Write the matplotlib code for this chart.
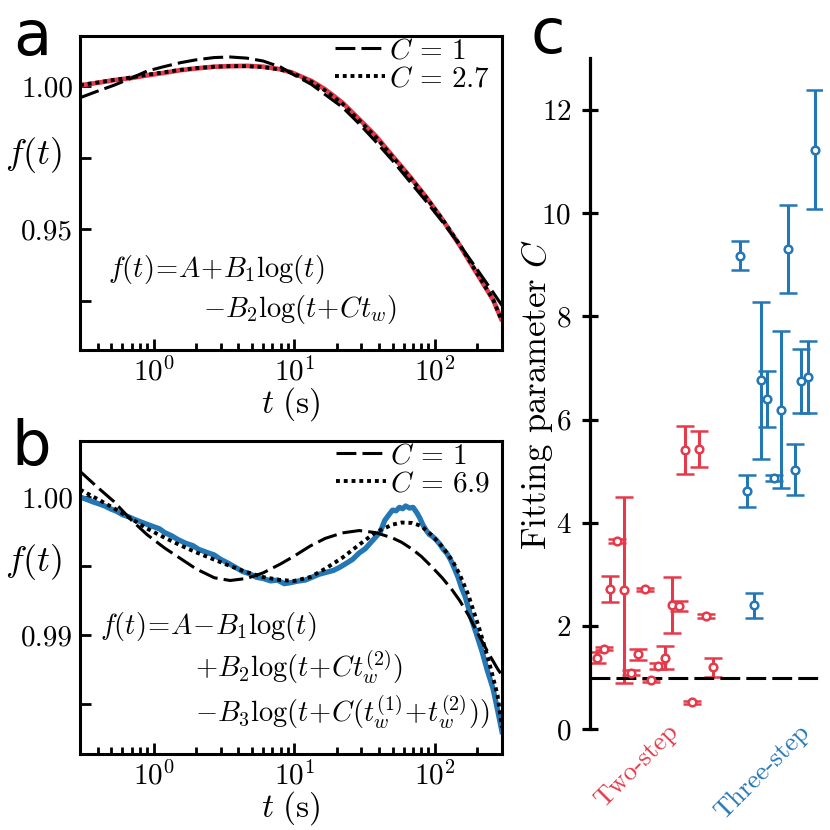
import matplotlib
matplotlib.use("Agg")
import matplotlib.pyplot as plt

plt.rcParams['font.family'] = ['cmr10']
plt.rcParams['mathtext.fontset'] = 'cm'
plt.rcParams['axes.formatter.use_mathtext'] = True
plt.rcParams['axes.unicode_minus'] = False

RED = '#e63a4a'
BLUE = '#2377b5'

# panel a: two-step data and fits
ta = [0.3, 0.4, 0.52, 0.7, 0.9, 1.2, 1.55, 2.0, 2.7, 3.5, 4.6, 6.0, 8.0, 9.6,
      13.3, 16.6, 22, 29, 38, 50, 65, 86, 113, 150, 197, 260, 300]
fa_data = [1.0002, 1.0011, 1.0020, 1.0028, 1.0037, 1.0046, 1.0055, 1.0061, 1.0067,
           1.0069, 1.0070, 1.0067, 1.0058, 1.0047, 1.0017, 0.9988, 0.9942, 0.9884,
           0.9826, 0.9756, 0.9690, 0.9615, 0.9535, 0.9445, 0.9350, 0.9254, 0.9182]
fa_c1 = [0.9959, 0.9982, 1.0002, 1.0028, 1.0052, 1.0068, 1.0081, 1.0091, 1.0099,
         1.0101, 1.0097, 1.0087, 1.0066, 1.0043, 1.0005, 0.9970, 0.9926, 0.9868,
         0.9806, 0.9740, 0.9672, 0.9600, 0.9527, 0.9447, 0.9365, 0.9280, 0.9235]
fa_c27 = [1.0003, 1.0012, 1.0021, 1.0030, 1.0039, 1.0048, 1.0056, 1.0062, 1.0067,
          1.0069, 1.0069, 1.0066, 1.0057, 1.0046, 1.0014, 0.9984, 0.9938, 0.9880,
          0.9822, 0.9753, 0.9688, 0.9614, 0.9536, 0.9447, 0.9352, 0.9255, 0.9180]

# panel b: three-step data and fits
tb = [0.3, 0.4, 0.52, 0.7, 0.9, 1.2, 1.55, 2.0, 2.7, 3.5, 4.6, 6.0, 8.0, 10, 13,
      16.6, 22, 29, 38, 50, 58, 69, 80, 96, 113, 133, 150, 173, 207, 243, 279, 300]
fb_c1 = [1.00186, 1.00070, 0.99969, 0.99830, 0.99727, 0.99630, 0.99555, 0.99480,
         0.99415, 0.99395, 0.99410, 0.99450, 0.99515, 0.99572, 0.99645, 0.99700,
         0.99740, 0.99757, 0.99742, 0.99703, 0.99672, 0.99622, 0.99570, 0.99490,
         0.99413, 0.99325, 0.99250, 0.99145, 0.98990, 0.98860, 0.98755, 0.98708]
fb_c69 = [1.00054, 0.99985, 0.99920, 0.99840, 0.99771, 0.99705, 0.99650, 0.99600,
          0.99546, 0.99500, 0.99455, 0.99420, 0.99398, 0.99392, 0.99420, 0.99480,
          0.99560, 0.99655, 0.99745, 0.99800, 0.99815, 0.99812, 0.99790, 0.99720,
          0.99640, 0.99540, 0.99440, 0.99290, 0.99046, 0.98804, 0.98563, 0.98330]
tb_data = [0.3, 0.33, 0.37, 0.41, 0.45, 0.5, 0.55, 0.6, 0.66, 0.73, 0.8, 0.9, 1.0,
           1.1, 1.2, 1.35, 1.5, 1.7, 1.9, 2.1, 2.4, 2.7, 3.0, 3.4, 3.8, 4.3, 4.8,
           5.4, 6.0, 6.8, 7.6, 8.5, 9.5, 10.5, 12, 13.5, 15, 17, 19, 21, 23.5, 26,
           29, 32, 35, 38, 41, 44, 47, 50, 53, 56, 59, 62, 66, 70, 74, 78, 82, 86,
           91, 96, 102, 108, 115, 122, 130, 138, 146, 155, 164, 174, 185, 200, 217,
           235, 259, 280, 300]
fb_data = [1.00000, 0.99985, 0.99965, 0.99950, 0.99935, 0.99912, 0.99895, 0.99872,
           0.99858, 0.99838, 0.99822, 0.99802, 0.99785, 0.99770, 0.99742, 0.99718,
           0.99690, 0.99664, 0.99648, 0.99620, 0.99598, 0.99580, 0.99548, 0.99520,
           0.99492, 0.99460, 0.99445, 0.99418, 0.99410, 0.99392, 0.99398, 0.99372,
           0.99380, 0.99390, 0.99398, 0.99420, 0.99440, 0.99455, 0.99468, 0.99490,
           0.99520, 0.99548, 0.99595, 0.99625, 0.99670, 0.99710, 0.99750, 0.99830,
           0.99870, 0.99905, 0.99900, 0.99925, 0.99915, 0.99935, 0.99920, 0.99925,
           0.99890, 0.99850, 0.99800, 0.99765, 0.99730, 0.99715, 0.99690, 0.99660,
           0.99620, 0.99590, 0.99540, 0.99480, 0.99420, 0.99340, 0.99280, 0.99190,
           0.99094, 0.98990, 0.98877, 0.98750, 0.98612, 0.98450, 0.98300]

# panel c: fitted C with errors
c_two = [1.39, 1.56, 2.72, 3.65, 2.70, 1.10, 1.45, 2.71, 0.95, 1.23, 1.39, 2.41,
         2.39, 5.41, 0.52, 5.43, 2.19, 1.20]
e_two = [0.10, 0.03, 0.25, 0.04, 1.80, 0.04, 0.10, 0.03, 0.03, 0.06, 0.23, 0.55,
         0.10, 0.46, 0.03, 0.35, 0.04, 0.19]
c_three = [9.18, 4.62, 2.40, 6.76, 6.40, 4.87, 6.19, 9.30, 5.03, 6.75, 6.82, 11.23]
e_three = [0.29, 0.31, 0.25, 1.52, 0.55, 0.05, 1.52, 0.85, 0.49, 0.62, 0.70, 1.15]
x_two = list(range(0, 18))
x_three = list(range(21, 33))

fig = plt.figure(figsize=(8.3, 8.3), dpi=100)
ax_a = fig.add_axes([0.0964, 0.5783, 0.5084, 0.3783])
ax_b = fig.add_axes([0.0964, 0.0916, 0.5084, 0.3771])
ax_c = fig.add_axes([0.7108, 0.1213, 0.2795, 0.8084])

dash = (6.5, 2)
dot = (1, 1)


def style_fit_axes(ax):
    ax.set_xscale('log')
    ax.set_xlim(0.3, 300)
    for s in ax.spines.values():
        s.set_linewidth(2.2)
    ax.tick_params(which='both', direction='in', top=False, right=False,
                   width=2.0, labelsize=21)
    ax.tick_params(which='major', length=8, pad=5)
    ax.tick_params(which='minor', length=5)
    ax.yaxis.set_tick_params(which='minor', left=False)
    ax.set_xlabel(r'$t\ (\mathrm{s})$', fontsize=24, labelpad=-1)
    ax.set_ylabel(r'$f(t)$', fontsize=26, rotation=0, ha='center', va='center')


def add_legend(ax):
    ax.legend(loc='upper right', frameon=False, fontsize=21, handlelength=1.7,
              handletextpad=0.15, labelspacing=0.05, borderaxespad=0.0,
              bbox_to_anchor=(1.0, 1.03))


# panel a
ax_a.plot(ta, fa_data, color=RED, lw=3.4, solid_capstyle='butt')
ax_a.plot(ta, fa_c1, color='k', lw=2.2, dashes=dash, label=r'$C\,=\,1$')
ax_a.plot(ta, fa_c27, color='k', lw=2.8, dashes=dot, label=r'$C\,=\,2.7$')
style_fit_axes(ax_a)
ax_a.set_ylim(0.908, 1.0174)
ax_a.set_yticks([0.925, 0.95, 0.975, 1.0])
ax_a.set_yticklabels(['', '0.95', '', '1.00'])
ax_a.yaxis.set_label_coords(-0.11, 0.621)
ax_a.text(0.066, 0.232, r'$f(t)\!=\!A\!+\!B_1\log(t)$', transform=ax_a.transAxes,
          fontsize=20.5, ha='left', va='baseline')
ax_a.text(0.291, 0.105, r'${-}B_2\log(t\!+\!Ct_w)$', transform=ax_a.transAxes,
          fontsize=20.5, ha='left', va='baseline')
add_legend(ax_a)

# panel b
ax_b.plot(tb_data, fb_data, color=BLUE, lw=3.8)
ax_b.plot(tb, fb_c1, color='k', lw=2.2, dashes=dash, label=r'$C\,=\,1$')
ax_b.plot(tb, fb_c69, color='k', lw=2.8, dashes=dot, label=r'$C\,=\,6.9$')
style_fit_axes(ax_b)
ax_b.set_ylim(0.98138, 1.00406)
ax_b.set_yticks([0.985, 0.99, 0.995, 1.0])
ax_b.set_yticklabels(['', '0.99', '', '1.00'])
ax_b.yaxis.set_label_coords(-0.11, 0.613)
ax_b.text(0.047, 0.383, r'$f(t)\!=\!A\!-\!B_1\log(t)$', transform=ax_b.transAxes,
          fontsize=20.5, ha='left', va='baseline')
ax_b.text(0.273, 0.246, r'${+}B_2\log(t\!+\!Ct_w^{(2)})$', transform=ax_b.transAxes,
          fontsize=20.5, ha='left', va='baseline')
ax_b.text(0.273, 0.102, r'${-}B_3\log(t\!+\!C(t_w^{(1)}\!+\!t_w^{(2)}))$',
          transform=ax_b.transAxes, fontsize=20.5, ha='left', va='baseline')
add_legend(ax_b)

# panel c
err_kw = dict(fmt='o', ms=5.5, mfc='white', mew=1.8, elinewidth=2.2,
              capsize=6.5, capthick=2.2)
ax_c.errorbar(x_two, c_two, yerr=e_two, color=RED, **err_kw)
ax_c.errorbar(x_three, c_three, yerr=e_three, color=BLUE, **err_kw)
ax_c.axhline(1, color='k', lw=2.2, dashes=dash)
ax_c.set_xlim(-1, 33)
ax_c.set_ylim(0, 13)
ax_c.set_yticks([0, 2, 4, 6, 8, 10, 12])
ax_c.set_xticks([])
for side in ['top', 'right', 'bottom']:
    ax_c.spines[side].set_visible(False)
ax_c.spines['left'].set_linewidth(2.3)
ax_c.tick_params(axis='y', direction='inout', length=11, width=2.3, labelsize=21, pad=8)
ax_c.set_ylabel(r'Fitting parameter $C$', fontsize=25)
ax_c.yaxis.set_label_coords(-0.15, 0.5)
ax_c.text(5.8, -0.055, 'Two-step', color=RED, fontsize=19, rotation=45,
          ha='center', va='center', transform=ax_c.get_xaxis_transform())
ax_c.text(24.2, -0.064, 'Three-step', color=BLUE, fontsize=19, rotation=45,
          ha='center', va='center', transform=ax_c.get_xaxis_transform())

# panel letters
fig.text(0.0157, 0.9337, 'a', fontsize=45, family='DejaVu Sans', va='baseline')
fig.text(0.0133, 0.4398, 'b', fontsize=45, family='DejaVu Sans', va='baseline')
fig.text(0.6386, 0.936, 'c', fontsize=45, family='DejaVu Sans', va='baseline')

fig.savefig('out.png', dpi=100)
